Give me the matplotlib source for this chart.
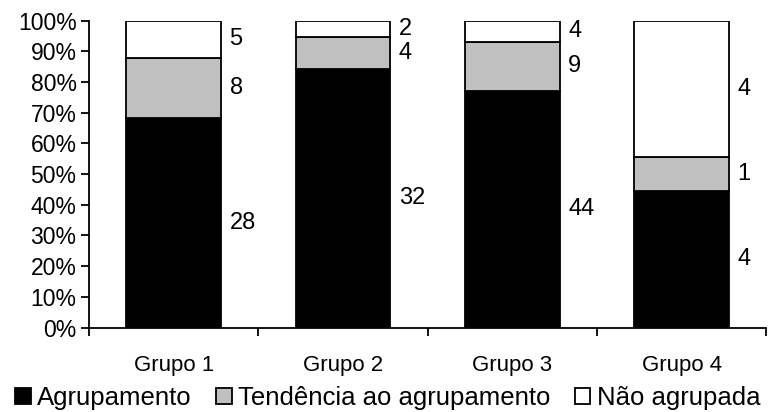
import numpy as np
import matplotlib.pyplot as plt
from matplotlib.ticker import PercentFormatter, FixedLocator

plt.rcParams['font.family'] = ['Liberation Sans', 'DejaVu Sans']

grupos = ['Grupo 1', 'Grupo 2', 'Grupo 3', 'Grupo 4']
agrupamento = [28, 32, 44, 4]
tendencia = [8, 4, 9, 1]
nao_agrupada = [5, 2, 4, 4]

series = [
    ('Agrupamento', agrupamento, 'black'),
    ('Tendência ao agrupamento', tendencia, '#c0c0c0'),
    ('Não agrupada', nao_agrupada, 'white'),
]

totais = np.array(agrupamento) + np.array(tendencia) + np.array(nao_agrupada)
x = np.arange(len(grupos))
largura = 0.56

fig, ax = plt.subplots(figsize=(7.74, 4.12), dpi=100)
fig.subplots_adjust(left=0.115, right=0.99, top=0.95, bottom=0.205)

base = np.zeros(len(grupos))
for nome, valores, cor in series:
    frac = np.array(valores) / totais * 100
    ax.bar(x, frac, largura, bottom=base, color=cor, edgecolor='black',
           linewidth=1.3, label=nome, zorder=2)
    for xi, b, f, v in zip(x, base, frac, valores):
        ax.text(xi + largura / 2 + 0.05, b + f / 2, str(v), fontsize=17,
                ha='left', va='center')
    base += frac

ax.set_xlim(-0.5, len(grupos) - 0.5)
ax.set_ylim(0, 100)
ax.set_yticks(np.arange(0, 101, 10))
ax.yaxis.set_major_formatter(PercentFormatter(decimals=0))
ax.set_xticks(x)
ax.set_xticklabels(grupos)
ax.xaxis.set_minor_locator(FixedLocator(np.arange(-0.5, len(grupos), 1)))
ax.tick_params(axis='x', which='major', length=0, pad=20, labelsize=16)
ax.tick_params(axis='x', which='minor', length=6, width=1.3, direction='out')
ax.tick_params(axis='y', length=6, width=1.3, labelsize=16.5, pad=3)
for s in ['top', 'right']:
    ax.spines[s].set_visible(False)
for s in ['left', 'bottom']:
    ax.spines[s].set_linewidth(1.3)

fig.legend(*ax.get_legend_handles_labels(), loc='center left',
           bbox_to_anchor=(15 / 774, 1 - 398 / 412), ncol=3,
           frameon=False, fontsize=18.5, handlelength=0.62, handleheight=0.62,
           handletextpad=0.25, columnspacing=0.93, borderaxespad=0,
           borderpad=0)

fig.savefig('out.png', dpi=100)
